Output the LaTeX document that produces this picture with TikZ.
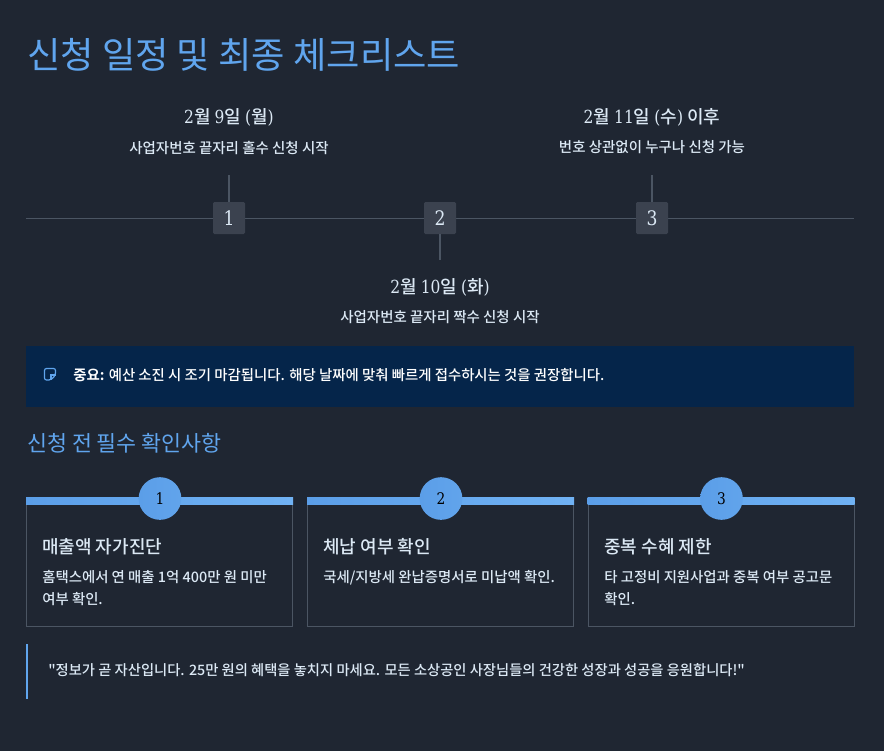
\documentclass[tikz,border=0pt]{standalone}
\usepackage{fontspec}
\setmainfont{Noto Sans CJK KR}[UprightFont=* Medium,BoldFont=* Bold]
\newfontfamily\regularfont{Noto Sans CJK KR}
\newfontfamily\plainfont{Noto Sans CJK KR Medium}
\newfontfamily\slabfont{DejaVu Serif}[FakeStretch=0.86]
\usetikzlibrary{positioning}
\definecolor{pagebg}{HTML}{1F2632}
\definecolor{notebg}{HTML}{05254A}
\definecolor{headblue}{HTML}{60A5EE}
\definecolor{barleft}{HTML}{5B9EE8}
\definecolor{barright}{HTML}{70B2F4}
\definecolor{softtext}{HTML}{DCE9F5}
\definecolor{linegray}{HTML}{4B5563}
\definecolor{stepgray}{HTML}{3B424F}
\tikzset{
  datetext/.style={font=\fontsize{13.5pt}{16pt}\selectfont,text=softtext,anchor=center,inner sep=0pt},
  desctext/.style={font=\fontsize{10.85pt}{13pt}\selectfont,text=softtext,anchor=center,inner sep=0pt},
  stepbox/.style={fill=stepgray,rounded corners=1pt,minimum width=24pt,minimum height=24pt,inner sep=0pt,text=softtext,font=\fontsize{15pt}{18pt}\slabfont},
  stem/.style={draw=linegray,line width=1.5pt},
  cardbox/.style={draw=linegray,line width=0.75pt},
  cardbar/.style={left color=barleft,right color=barright,draw=none},
  cardnum/.style={circle,left color=barleft,right color=barleft!70!barright,minimum size=32pt,inner sep=0pt,text=black,font=\fontsize{12pt}{14pt}\slabfont},
  cardhead/.style={font=\fontsize{13.5pt}{16pt}\selectfont,text=softtext,anchor=west,inner sep=0pt},
  cardtext/.style={font=\fontsize{10.8pt}{13pt}\selectfont,text=softtext,anchor=west,inner sep=0pt},
}
\begin{document}
\begin{tikzpicture}[x=0.75pt,y=-0.75pt]
\fill[pagebg] (0,0) rectangle (884,751);
\useasboundingbox (0,0) rectangle (884,751);
\node[font=\fontsize{27.2pt}{32pt}\regularfont,text=headblue,anchor=west,inner sep=0pt] (title) at (27,55) {신청 일정 및 최종 체크리스트};

% timeline
\coordinate (lineleft) at (26,218);
\coordinate (lineright) at (854,218);
\draw[linegray,line width=0.75pt] (lineleft) -- (lineright);
\node[stepbox] (stepa) at (229,218) {1};
\node[stepbox] (stepb) at (440,218) {2};
\node[stepbox] (stepc) at (652,218) {3};
\coordinate (stema) at (229,175);
\coordinate (stemb) at (440,260);
\coordinate (stemc) at (652,175);
\draw[stem] (stema) -- (stepa);
\draw[stem] (stemb) -- (stepb);
\draw[stem] (stemc) -- (stepc);
\node[datetext] (datea) at (229,117.5) {{\slabfont 2}월 {\slabfont 9}일 {\slabfont (}월{\slabfont )}};
\node[desctext] (desca) at (229,147.5) {사업자번호 끝자리 홀수 신청 시작};
\node[datetext] (dateb) at (440,287.5) {{\slabfont 2}월 {\slabfont 10}일 {\slabfont (}화{\slabfont )}};
\node[desctext] (descb) at (440,317.5) {사업자번호 끝자리 짝수 신청 시작};
\node[datetext] (datec) at (652,117.5) {{\slabfont 2}월 {\slabfont 11}일 {\slabfont (}수{\slabfont )} 이후};
\node[desctext] (descc) at (652,147.5) {번호 상관없이 누구나 신청 가능};

% notice
\fill[notebg] (26,346) rectangle (854,407);
\draw[headblue,line width=0.9pt,rounded corners=1.5pt] (44.5,368.5) -- (55.5,368.5) -- (55.5,375) -- (51,380) -- (44.5,380) -- cycle;
\draw[headblue,line width=0.9pt] (55.5,375) -- (51,375) -- (51,380);
\node[font=\fontsize{10.8pt}{13pt}\selectfont,text=white,anchor=west,inner sep=0pt] (notice) at (73,375) {{\bfseries 중요:} 예산 소진 시 조기 마감됩니다. 해당 날짜에 맞춰 빠르게 접수하시는 것을 권장합니다.};

\node[font=\fontsize{16.3pt}{20pt}\regularfont,text=headblue,anchor=west,inner sep=0pt] (subtitle) at (27,443.5) {신청 전 필수 확인사항};

% cards
\foreach \cx/\cn in {26/1,307/2,587.5/3}{
  \draw[cardbox] (\cx+0.5,500) rectangle (\cx+266.5,626.5);
  \fill[cardbar] (\cx,497) rectangle (\cx+267,504);
  \node[cardnum] (num\cn) at (\cx+134,498.5) {\cn};
}
\node[cardhead] (heada) at (42,546.5) {매출액 자가진단};
\node[cardtext] (texta) at (42,577.5) {홈택스에서 연 매출 1억 400만 원 미만};
\node[cardtext] (textaa) at (42,599.5) {여부 확인.};
\node[cardhead] (headb) at (323,546.5) {체납 여부 확인};
\node[cardtext] (textb) at (323,577.5) {국세/지방세 완납증명서로 미납액 확인.};
\node[cardhead] (headc) at (604,546.5) {중복 수혜 제한};
\node[cardtext] (textc) at (604,577.5) {타 고정비 지원사업과 중복 여부 공고문};
\node[cardtext] (textcc) at (604,599.5) {확인.};

% closing
\fill[headblue] (26,644) rectangle (28,699);
\node[cardtext,font=\fontsize{10.72pt}{13pt}\plainfont] (quote) at (48,670.5) {"정보가 곧 자산입니다. 25만 원의 혜택을 놓치지 마세요. 모든 소상공인 사장님들의 건강한 성장과 성공을 응원합니다!"};
\end{tikzpicture}
\end{document}
